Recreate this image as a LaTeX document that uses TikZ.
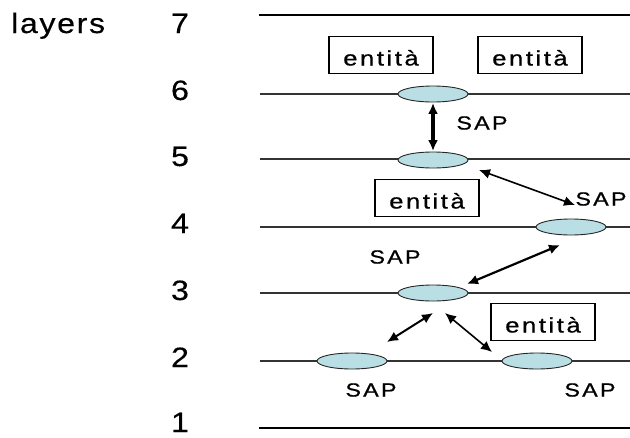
\documentclass[tikz,border=0pt]{standalone}
\usepackage{fontspec}
\setmainfont[RawFeature={embolden=0.3}]{Liberation Sans}
\newfontfamily\lsfont[LetterSpace=10,RawFeature={embolden=0.7}]{Liberation Sans}
\newfontfamily\lyfont[LetterSpace=5,RawFeature={embolden=0.3}]{Liberation Sans}
\usepackage{graphicx}
\usetikzlibrary{shapes.geometric,arrows.meta}
\definecolor{sapfill}{RGB}{185,222,228}
\newcommand{\hstretch}[1]{\scalebox{1.22}[1]{#1}}
\tikzset{
  layerline/.style={line width=1.2pt, draw=black!80},
  boundline/.style={line width=2.6pt, draw=black},
  sapell/.style={ellipse, draw=black!85, line width=0.9pt, fill=sapfill,
    minimum width=70pt, minimum height=16pt, inner sep=0pt},
  entbox/.style={draw, line width=1.1pt, minimum width=104pt, minimum height=37pt,
    inner sep=0pt, text height=21pt, text depth=0pt,
    font=\fontsize{21}{24}\selectfont\lsfont},
  saplabel/.style={inner sep=0pt, font=\fontsize{19}{22}\selectfont\lsfont},
  digit/.style={inner sep=0pt, anchor=base, font=\fontsize{28}{30}\selectfont},
  biarrow/.style={{Latex[length=11pt,width=10pt]}-{Latex[length=11pt,width=10pt]}, line width=2pt},
}
\begin{document}
\begin{tikzpicture}[x=1pt,y=-1pt]
\useasboundingbox (0,0) rectangle (630,437);

% layer lines
\coordinate (l7a) at (259,15);  \coordinate (l7b) at (630,15);
\coordinate (l6a) at (260,94);  \coordinate (l6b) at (630,94);
\coordinate (l5a) at (260,159); \coordinate (l5b) at (630,159);
\coordinate (l4a) at (260,227); \coordinate (l4b) at (630,227);
\coordinate (l3a) at (260,293); \coordinate (l3b) at (630,293);
\coordinate (l2a) at (260,361); \coordinate (l2b) at (630,361);
\coordinate (l1a) at (259,428); \coordinate (l1b) at (630,428);
\draw[boundline] (l7a) -- (l7b);
\draw[layerline] (l6a) -- (l6b);
\draw[layerline] (l5a) -- (l5b);
\draw[layerline] (l4a) -- (l4b);
\draw[layerline] (l3a) -- (l3b);
\draw[layerline] (l2a) -- (l2b);
\draw[boundline] (l1a) -- (l1b);

% left labels
\node[inner sep=0pt, anchor=base west, font=\fontsize{28}{30}\selectfont\lyfont] (layers) at (11,33) {\scalebox{1.15}[1]{layers}};
\node[digit] (n7) at (180,33) {\scalebox{1.15}[1]{7}};
\node[digit] (n6) at (180,100) {\scalebox{1.15}[1]{6}};
\node[digit] (n5) at (180,166) {\scalebox{1.15}[1]{5}};
\node[digit] (n4) at (180,233) {\scalebox{1.15}[1]{4}};
\node[digit] (n3) at (180,300) {\scalebox{1.15}[1]{3}};
\node[digit] (n2) at (180,367) {\scalebox{1.15}[1]{2}};
\node[digit] (n1) at (180,432) {\scalebox{1.15}[1]{1}};

% entity boxes
\node[entbox] (b1) at (381,55) {\hstretch{entità}};
\node[entbox] (b2) at (530,55) {\hstretch{entità}};
\node[entbox] (b3) at (427,198) {\hstretch{entità}};
\node[entbox] (b4) at (543,322) {\hstretch{entità}};

% SAP ellipses
\node[sapell] (e6) at (433,94) {};
\node[sapell] (e5) at (433,160) {};
\node[sapell] (e4) at (571,227) {};
\node[sapell] (e3) at (433,293) {};
\node[sapell] (e2a) at (352,361) {};
\node[sapell] (e2b) at (537,361) {};

% SAP labels
\node[saplabel] (s1) at (482,123) {\hstretch{SAP}};
\node[saplabel] (s2) at (601,199) {\hstretch{SAP}};
\node[saplabel] (s3) at (395,257) {\hstretch{SAP}};
\node[saplabel] (s4) at (371,390) {\hstretch{SAP}};
\node[saplabel] (s5) at (590,390) {\hstretch{SAP}};

% arrow end points
\coordinate (a2s) at (479,170);
\coordinate (a2e) at (575,205);
\coordinate (a3s) at (560,245);
\coordinate (a3e) at (467,284);
\coordinate (a4s) at (433,313);
\coordinate (a4e) at (387,342);
\coordinate (a5s) at (445,313);
\coordinate (a5e) at (492,352);

% arrows
\draw[{Latex[length=11pt,width=10pt]}-{Latex[length=11pt,width=10pt]}, line width=3.5pt, shorten <=0.5pt, shorten >=0.5pt] (e6.south) -- (e5.north);
\draw[biarrow, line width=1.6pt] (a2s) -- (a2e);
\draw[biarrow, line width=2.2pt] (a3s) -- (a3e);
\draw[biarrow, line width=2pt] (a4s) -- (a4e);
\draw[biarrow, line width=1.6pt] (a5s) -- (a5e);
\end{tikzpicture}
\end{document}
